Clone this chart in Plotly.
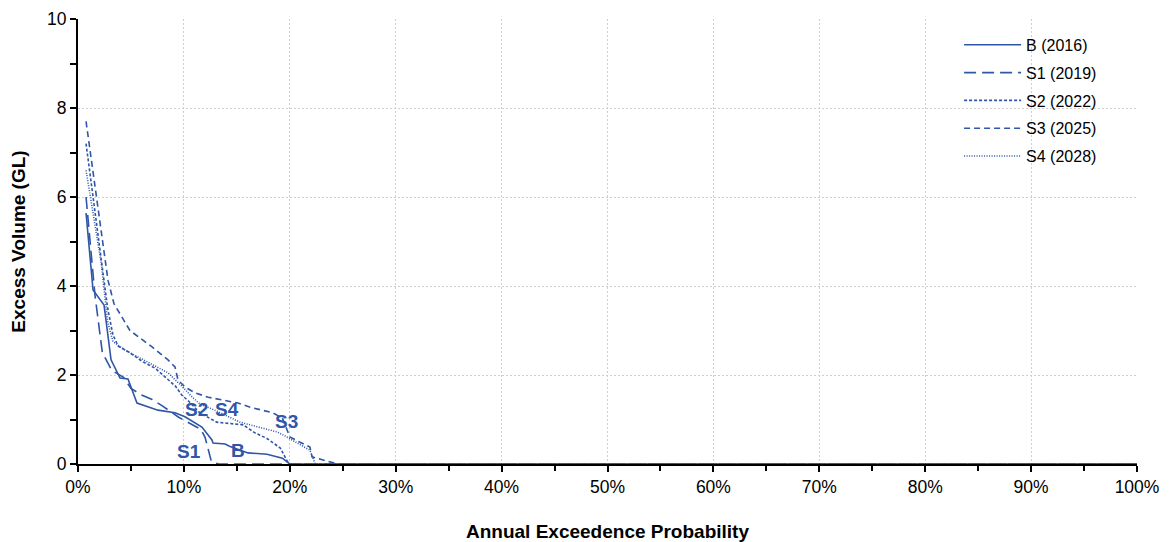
import plotly.graph_objects as go

# Annual exceedence probability (%) and excess volume (GL)
b_x = [0.76, 1.42, 2.46, 3.12, 3.97, 4.72, 5.57, 7.55, 9.16, 10.1, 11.7, 12.65, 12.75, 13.9, 14.3, 16.05, 17.85, 19.3, 20.0, 100.0]
b_y = [5.64, 3.91, 3.57, 2.34, 1.93, 1.91, 1.37, 1.21, 1.15, 1.06, 0.83, 0.54, 0.47, 0.45, 0.40, 0.25, 0.22, 0.13, 0.0, 0.0]

s1_x = [0.76, 1.6, 2.3, 3.2, 4.3, 5.0, 6.0, 7.0, 8.0, 9.5, 10.5, 11.6, 12.0, 12.6, 13.3, 100.0]
s1_y = [6.0, 3.8, 2.5, 2.1, 1.95, 1.7, 1.55, 1.45, 1.3, 1.05, 0.92, 0.78, 0.6, 0.05, 0.0, 0.0]

s2_x = [0.76, 1.5, 2.2, 2.8, 3.3, 3.8, 4.9, 6.1, 7.3, 8.2, 9.2, 9.8, 10.5, 11.5, 13.1, 15.6, 16.7, 17.8, 19.1, 19.9, 100.0]
s2_y = [7.2, 5.9, 4.6, 3.5, 2.9, 2.65, 2.5, 2.3, 2.15, 1.95, 1.75, 1.55, 1.4, 1.15, 0.94, 0.88, 0.7, 0.58, 0.36, 0.0, 0.0]

s3_x = [0.76, 2.0, 2.83, 3.4, 4.9, 7.0, 8.5, 9.16, 9.44, 10.1, 11.05, 12.3, 15.1, 16.2, 18.4, 19.3, 20.0, 20.96, 21.9, 22.1, 23.1, 24.5, 100.0]
s3_y = [7.7, 5.6, 4.13, 3.6, 3.0, 2.63, 2.34, 2.18, 1.89, 1.73, 1.6, 1.5, 1.37, 1.28, 1.15, 1.03, 0.61, 0.49, 0.38, 0.16, 0.09, 0.0, 0.0]

s4_x = [0.76, 1.5, 2.2, 2.8, 3.3, 4.5, 6.1, 7.3, 8.5, 9.8, 10.8, 11.5, 13.0, 15.3, 18.8, 19.4, 21.9, 22.4, 100.0]
s4_y = [6.6, 5.5, 4.5, 3.2, 2.75, 2.55, 2.35, 2.2, 2.05, 1.75, 1.5, 1.35, 1.2, 0.94, 0.72, 0.65, 0.31, 0.0, 0.0]

series_names = ["B (2016)", "S1 (2019)", "S2 (2022)", "S3 (2025)", "S4 (2028)"]
series_dash = ["solid", "12px,6px", "3px,2px", "6px,4px", "1px,1.5px"]

label_text = ["S1", "B", "S2", "S4", "S3"]
label_x = [10.5, 15.1, 11.2, 14.1, 19.7]
label_y = [0.27, 0.31, 1.22, 1.22, 0.95]

x_ticks = list(range(0, 101, 10))
y_ticks = list(range(0, 11, 2))

color = "#2F56A8"
series_x = [b_x, s1_x, s2_x, s3_x, s4_x]
series_y = [b_y, s1_y, s2_y, s3_y, s4_y]

fig = go.Figure()
for i, (xs, ys) in enumerate(zip(series_x, series_y)):
    fig.add_trace(go.Scatter(
        x=xs, y=ys, mode="lines", name=series_names[i], legendgroup=str(i),
        line=dict(color=color, width=1.6, dash=series_dash[i]),
    ))

for t, lx, ly in zip(label_text, label_x, label_y):
    fig.add_annotation(x=lx, y=ly, text="<b>" + t + "</b>", showarrow=False,
                       font=dict(family="Liberation Sans, Arial", size=19, color=color))

fig.update_layout(
    width=1167, height=534,
    margin=dict(l=70, r=38, t=11, b=78, autoexpand=False),
    paper_bgcolor="white", plot_bgcolor="white",
    font=dict(family="Liberation Sans, Arial", size=16, color="black"),
    showlegend=True,
    legend=dict(x=0.832, y=0.98, xanchor="left", yanchor="top",
                font=dict(size=16), traceorder="grouped", tracegroupgap=4,
                itemwidth=57, bgcolor="rgba(0,0,0,0)"),
    xaxis=dict(
        range=[0, 100], tickvals=x_ticks, ticktext=[f"{v}%" for v in x_ticks],
        showgrid=True, gridcolor="#cfcfcf", griddash="2px,2px", gridwidth=1,
        showline=True, linecolor="black", linewidth=2,
        ticks="outside", ticklen=6, tickwidth=2, tickcolor="black",
        minor=dict(dtick=5, ticks="outside", ticklen=5, tickwidth=2, tickcolor="black", showgrid=False),
        zeroline=False, layer="below traces", automargin=False,
        tickfont=dict(size=17.5),
        title=dict(text="<b>Annual Exceedence Probability</b>", font=dict(size=19), standoff=29),
    ),
    yaxis=dict(
        range=[0, 10], tickvals=y_ticks,
        showgrid=True, gridcolor="#cfcfcf", griddash="2px,2px", gridwidth=1,
        showline=True, linecolor="black", linewidth=2,
        ticks="outside", ticklen=6, tickwidth=2, tickcolor="black",
        minor=dict(dtick=1, ticks="outside", ticklen=6, tickwidth=2, tickcolor="black", showgrid=False),
        zeroline=False, layer="below traces", automargin=False,
        tickfont=dict(size=17.5),
        title=dict(text="<b>Excess Volume (GL)</b>", font=dict(size=19), standoff=18),
    ),
)

fig.write_html("out.html")
